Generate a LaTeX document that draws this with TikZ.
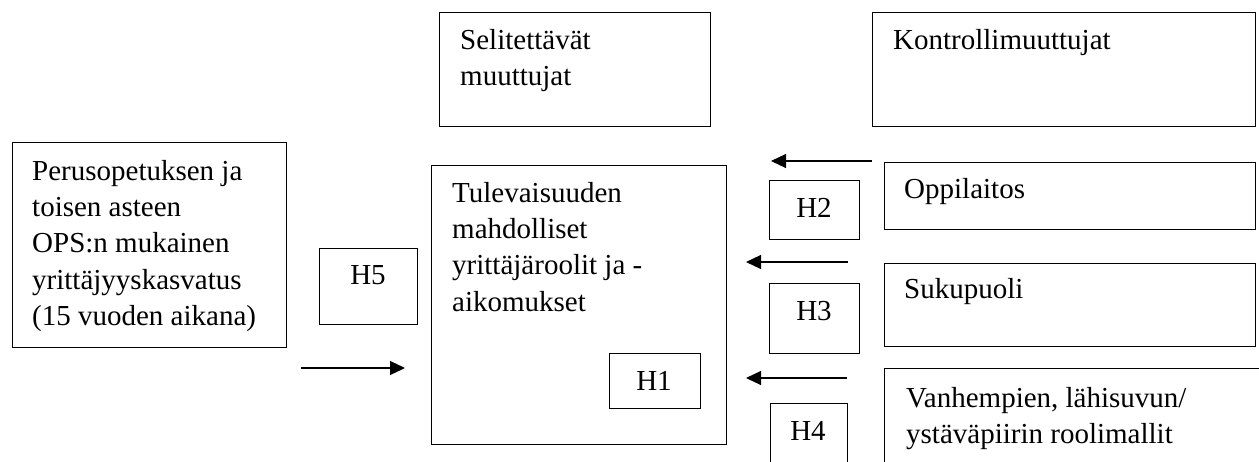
\documentclass[tikz,border=0pt]{standalone}
\usepackage{fontspec}
\setmainfont{Liberation Serif}
\usetikzlibrary{arrows.meta}
\begin{document}
\begin{tikzpicture}[x=1pt,y=-1pt,
  box/.style={draw,line width=1.1pt,inner sep=0pt,anchor=north west},
  % multi-line texts are placed by the baseline of their last line
  txt/.style={anchor=base west,inner sep=0pt,align=left,font=\fontsize{29}{36.4}\selectfont},
  lbl/.style={anchor=base,inner sep=0pt,font=\fontsize{29}{36.4}\selectfont},
  arr/.style={line width=1.1pt,-{Triangle[length=15pt,width=14pt]}}]
\useasboundingbox (0,0) rectangle (1259,461);
\clip (0,0) rectangle (1259,461);

% frames
\node[box,minimum width=274pt,minimum height=205pt] (peru) at (12,142) {};
\node[box,minimum width=98pt,minimum height=76pt] (h5) at (319,248) {};
\node[box,minimum width=295pt,minimum height=279pt] (tule) at (431,165) {};
\node[box,minimum width=271pt,minimum height=114pt] (seli) at (439,12) {};
\node[box,minimum width=91pt,minimum height=55pt] (h1) at (609,353) {};
\node[box,minimum width=383pt,minimum height=114pt] (kont) at (872,12) {};
\node[box,minimum width=371pt,minimum height=67pt] (oppi) at (884,162) {};
\node[box,minimum width=371pt,minimum height=83pt] (suku) at (884,263) {};
\node[box,minimum width=400pt,minimum height=150pt] (vanh) at (884,368) {};
\node[box,minimum width=90pt,minimum height=59pt] (h2) at (769,180) {};
\node[box,minimum width=90pt,minimum height=70pt] (h3) at (769,283) {};
\node[box,minimum width=77pt,minimum height=100pt] (h4) at (770,403) {};

% texts
\node[txt] (perut) at (32,325.6) {Perusopetuksen ja\\toisen asteen\\OPS:n mukainen\\yrittäjyyskasvatus\\(15 vuoden aikana)};
\node[lbl] (h5t) at (368,284) {H5};
\node[txt] (selit) at (460,85.4) {Selitettävät\\muuttujat};
\node[txt] (tulet) at (452,311.2) {Tulevaisuuden\\mahdolliset\\yrittäjäroolit ja -\\aikomukset};
\node[lbl] (h1t) at (654,390) {H1};
\node[txt] (kontt) at (893,49) {Kontrollimuuttujat};
\node[txt] (oppit) at (904,198) {Oppilaitos};
\node[txt] (sukut) at (904,298) {Sukupuoli};
\node[txt] (vanht) at (906,443.4) {Vanhempien, lähisuvun/\\ystäväpiirin roolimallit};
\node[lbl] (h2t) at (814,217) {H2};
\node[lbl] (h3t) at (814,320) {H3};
\node[lbl] (h4t) at (808,440) {H4};

% arrows
\coordinate (a5s) at (301,368);
\coordinate (a5e) at (405,368);
\coordinate (a2s) at (872,161);
\coordinate (a2e) at (771,161);
\coordinate (a3s) at (848,262);
\coordinate (a3e) at (746,262);
\coordinate (a4s) at (847,378);
\coordinate (a4e) at (746,378);
\draw[arr] (a5s) -- (a5e);
\draw[arr] (a2s) -- (a2e);
\draw[arr] (a3s) -- (a3e);
\draw[arr] (a4s) -- (a4e);
\end{tikzpicture}
\end{document}
